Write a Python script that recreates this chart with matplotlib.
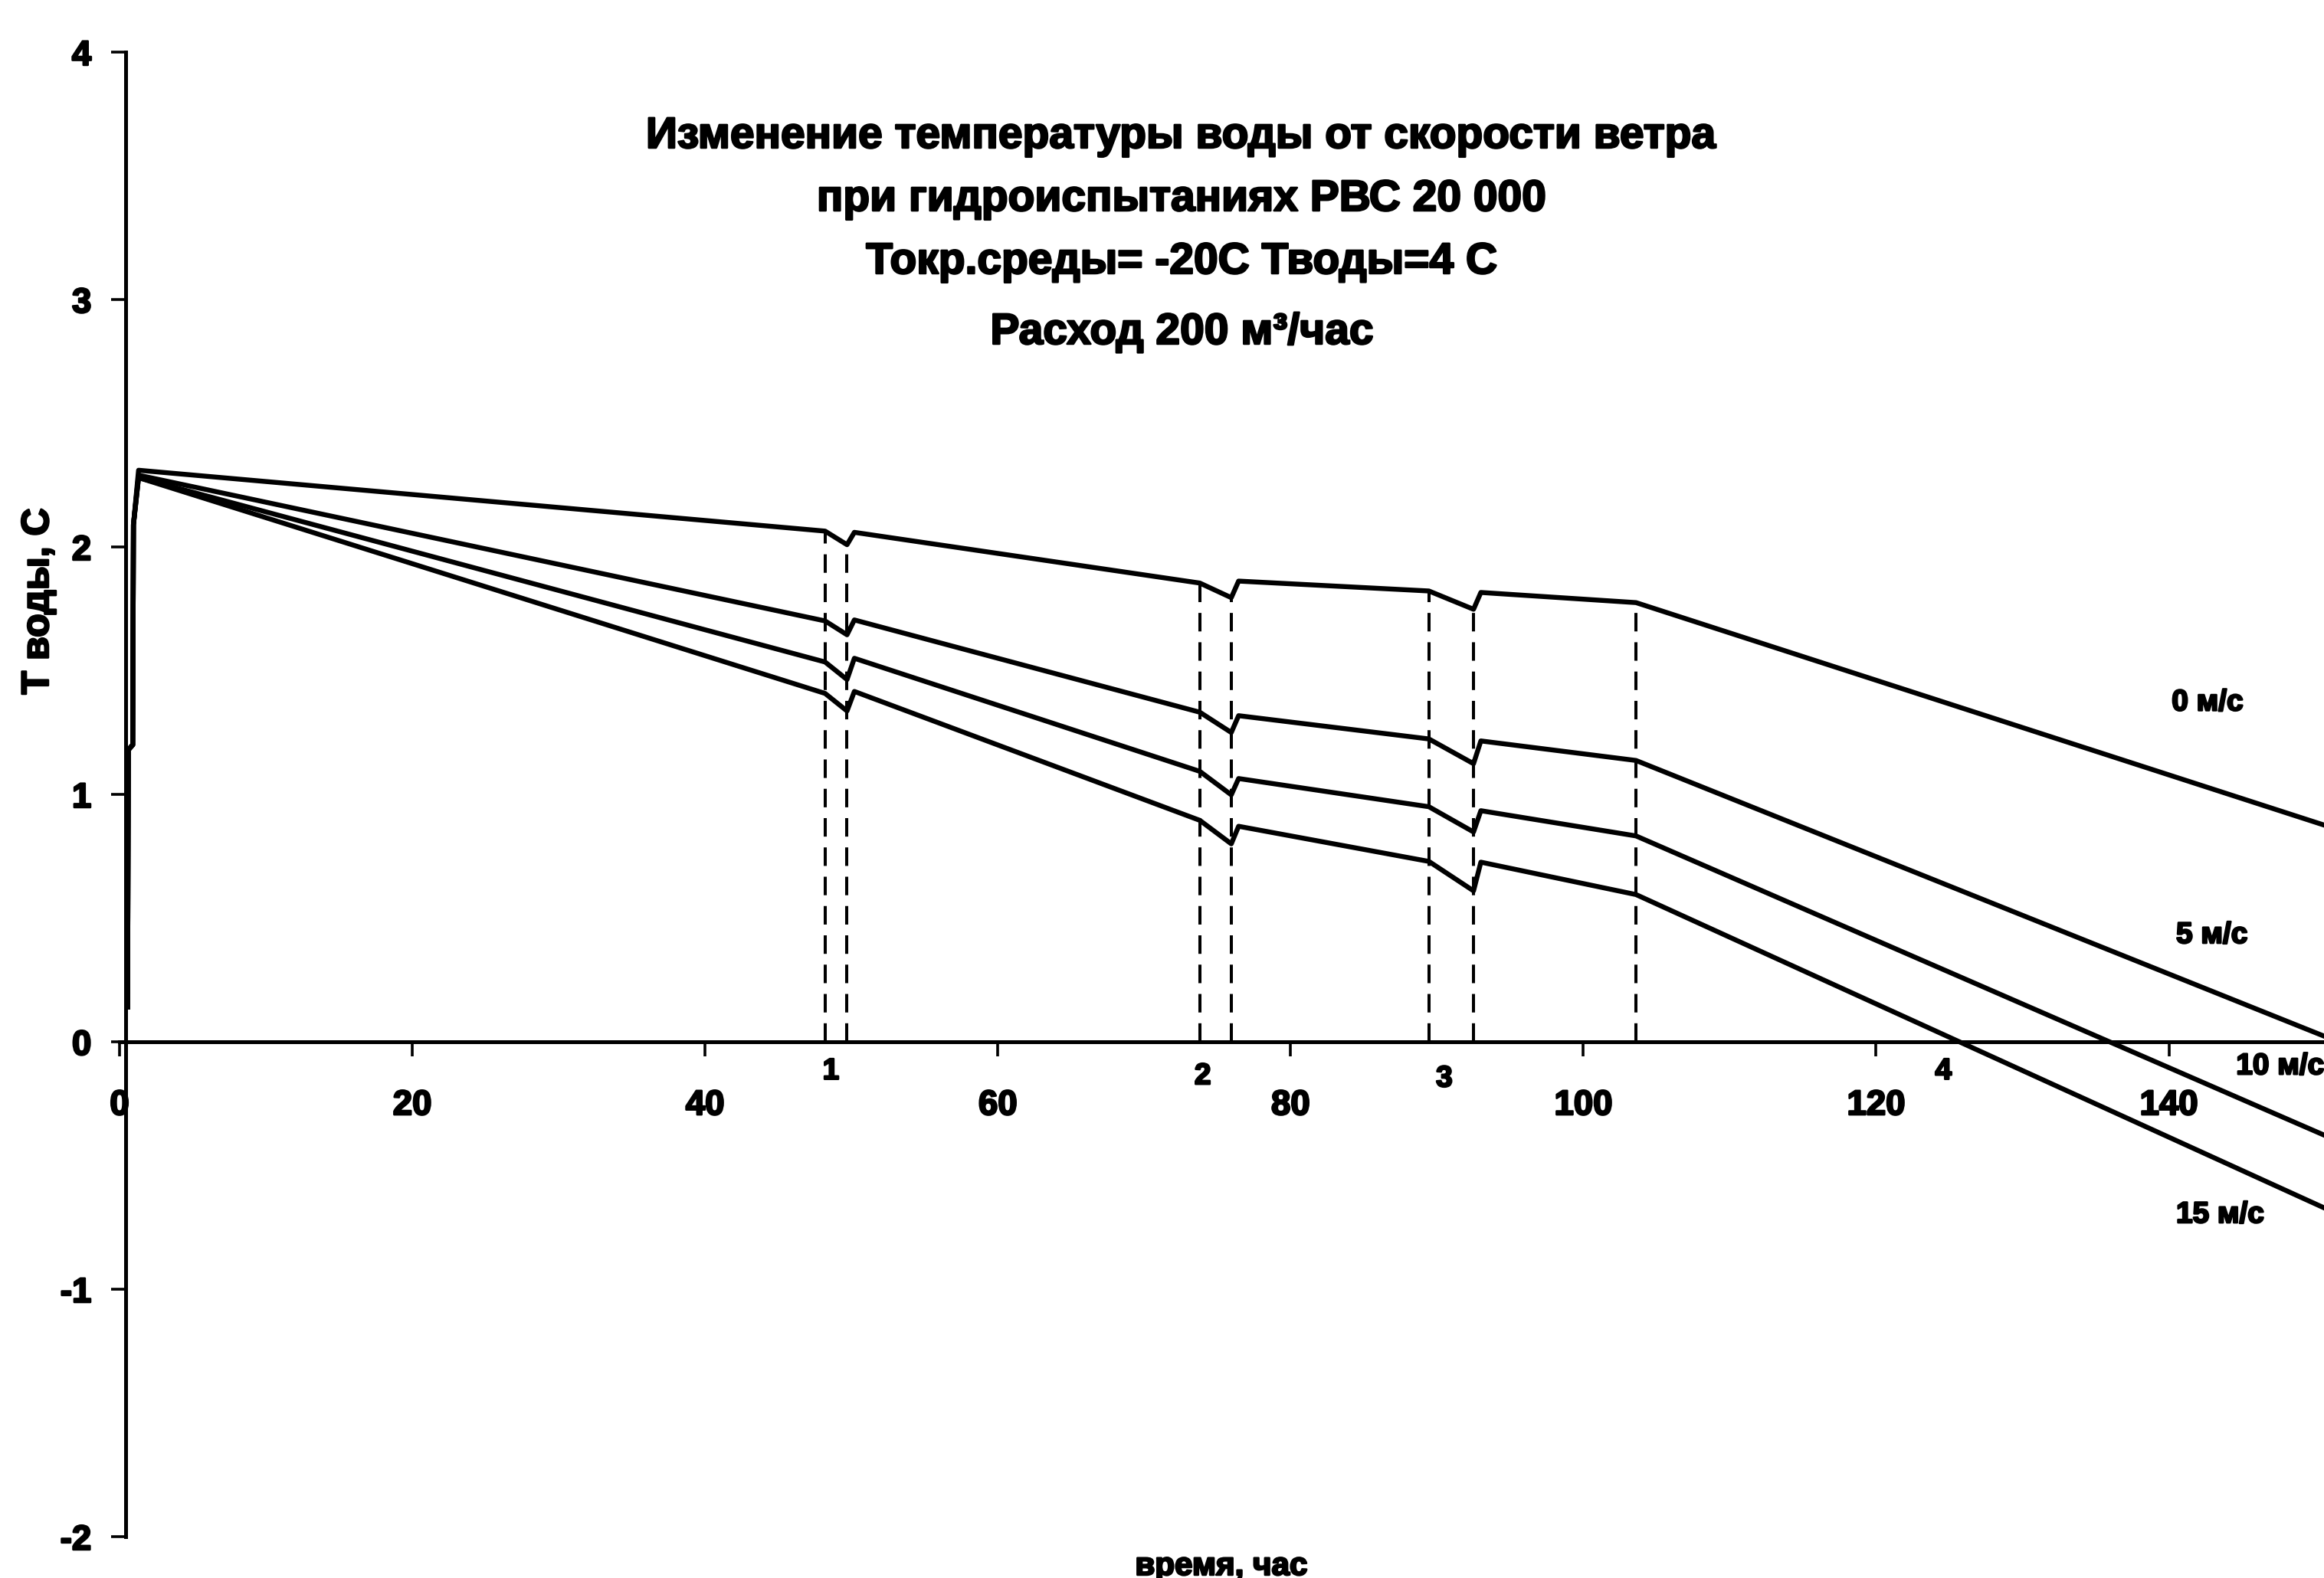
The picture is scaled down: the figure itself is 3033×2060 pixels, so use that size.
import numpy as np
import matplotlib
matplotlib.use("Agg")
import matplotlib.pyplot as plt
import matplotlib.patheffects as pe
from matplotlib import font_manager as fm


def pick_font(names):
    # first family from the list that is really installed
    for name in names:
        try:
            fm.findfont(fm.FontProperties(family=name, weight='bold'), fallback_to_default=False)
            return name
        except ValueError:
            pass
    return 'DejaVu Sans'


FONT = pick_font(['Liberation Sans Narrow', 'DejaVu Sans Condensed', 'Liberation Sans'])
K = 1.0 if 'Narrow' in FONT or 'Condensed' in FONT else 0.82
plt.rcParams['font.family'] = [FONT, 'DejaVu Sans']
plt.rcParams['font.weight'] = 'bold'
plt.rcParams['axes.unicode_minus'] = False

# время, час (общая сетка для всех кривых)
hours = [0.55, 0.6, 0.9, 0.95, 1.3, 48.2, 49.7, 50.2, 73.8, 75.95, 76.45,
         89.45, 92.5, 93.0, 103.6, 150.6]
# температура воды, C
t_0ms = [0.14, 1.18, 1.2, 2.09, 2.31, 2.064, 2.009, 2.059, 1.854, 1.795, 1.862,
         1.822, 1.748, 1.816, 1.775, 0.876]
t_5ms = [0.14, 1.18, 1.2, 2.09, 2.29, 1.701, 1.645, 1.705, 1.332, 1.250, 1.318,
         1.224, 1.124, 1.216, 1.137, 0.023]
t_10ms = [0.14, 1.18, 1.2, 2.09, 2.28, 1.535, 1.464, 1.550, 1.093, 0.998, 1.064,
          0.950, 0.848, 0.934, 0.832, -0.377]
t_15ms = [0.14, 1.18, 1.2, 2.09, 2.28, 1.408, 1.337, 1.416, 0.895, 0.800, 0.871,
          0.729, 0.610, 0.726, 0.595, -0.671]
series = [t_0ms, t_5ms, t_10ms, t_15ms]

# границы этапов (пунктир)
events = [48.2, 49.7, 73.8, 75.95, 89.45, 92.5, 103.6]
stage_labels = ['1', '2', '3', '4']
stage_x = [48.6, 74.0, 90.5, 124.6]
stage_y = [-0.12, -0.14, -0.15, -0.12]

speed_labels = ['0 м/с', '5 м/с', '10 м/с', '15 м/с']
speed_x = [140.2, 140.5, 144.6, 140.5]
speed_y = [1.37, 0.43, -0.10, -0.70]

x_ticks = [0, 20, 40, 60, 80, 100, 120, 140]
y_ticks = [-2, -1, 0, 1, 2, 3, 4]

title_lines = ['Изменение температуры воды от скорости ветра',
               'при гидроиспытаниях РВС 20 000',
               'Токр.среды= -20С Тводы=4 С',
               'Расход 200 м³/час']

HEAVY = [pe.withStroke(linewidth=1.8, foreground='black')]

W, H = 3033, 2060
fig = plt.figure(figsize=(W / 100, H / 100), dpi=100)
fig.patch.set_facecolor('white')
ax = fig.add_axes([156 / W, 1 - 2006 / H, 1 - 156 / W, (2006 - 68) / H])

for s in series:
    ax.plot(hours, s, color='black', lw=4.6, solid_joinstyle='round')

tops = np.interp(events, hours, t_0ms)
ax.vlines(events, 0, tops, colors='black', linestyles=[(0, (6, 3.5))], lw=2.9)

ax.set_xlim(0, 150.6)
ax.set_ylim(-2, 4)
ax.spines['top'].set_visible(False)
ax.spines['right'].set_visible(False)
ax.spines['left'].set_position(('data', 0.4))
ax.spines['bottom'].set_position(('data', 0))
for sp in ('left', 'bottom'):
    ax.spines[sp].set_linewidth(3.6)

ax.set_xticks(x_ticks)
ax.set_yticks(y_ticks)
ax.tick_params(axis='x', direction='out', length=14, width=2.6, pad=30,
               labelsize=40 * K)
ax.tick_params(axis='y', direction='out', length=14, width=2.6, pad=18,
               labelsize=40 * K)
for lab in ax.get_xticklabels() + ax.get_yticklabels():
    lab.set_fontweight('bold')
    lab.set_path_effects(HEAVY)

for txt, x, y in zip(stage_labels, stage_x, stage_y):
    ax.text(x, y, txt, ha='center', va='center', fontsize=34 * K, weight='bold',
            path_effects=HEAVY)
for txt, x, y in zip(speed_labels, speed_x, speed_y):
    ax.text(x, y, txt, ha='left', va='center', fontsize=34 * K, weight='bold',
            clip_on=False, path_effects=HEAVY)

title_y = [178, 260, 342, 434]
for txt, y in zip(title_lines, title_y):
    fig.text(1543 / W, 1 - y / H, txt, ha='center', va='center',
             fontsize=50 * K, weight='bold', path_effects=HEAVY)

fig.text(50 / W, 1 - 785 / H, 'Т воды, С', rotation=90, ha='center', va='center',
         fontsize=44 * K, weight='bold', path_effects=HEAVY)
fig.text(1594 / W, 1 - 2045 / H, 'время, час', ha='center', va='center',
         fontsize=37 * K, weight='bold', path_effects=HEAVY)

fig.savefig('out.png', dpi=100, facecolor='white')
